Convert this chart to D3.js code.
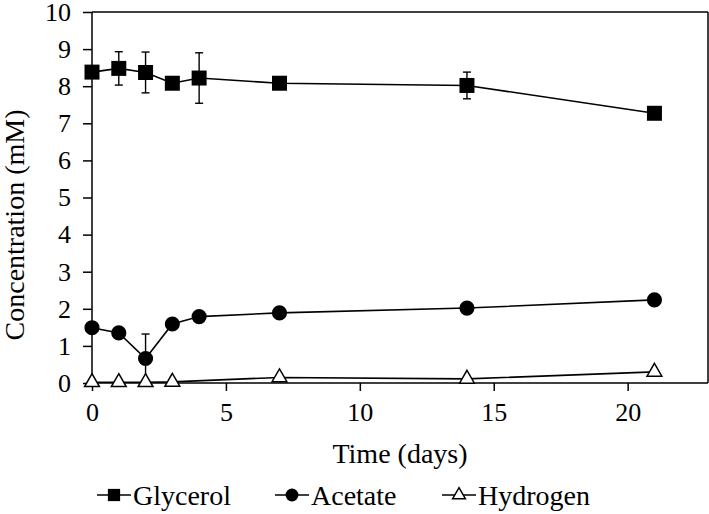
<!DOCTYPE html>
<html><head><meta charset="utf-8">
<script src="https://cdn.jsdelivr.net/npm/d3@7"></script>
<style>html,body{margin:0;padding:0;background:#fff;}svg{display:block;}</style>
</head><body>
<svg id="chart" width="709" height="514"></svg>
<script>
const days = [0, 1, 2, 3, 4, 7, 14, 21];
const glycerol = [8.38, 8.48, 8.37, 8.08, 8.22, 8.08, 8.02, 7.27];
const glycerolErr = [0, 0.45, 0.55, 0, 0.68, 0, 0.36, 0];
const acetate = [1.49, 1.35, 0.66, 1.59, 1.79, 1.89, 2.02, 2.24];
const acetateErr = [0, 0, 0.66, 0, 0, 0, 0, 0];
const hydrogenDays = [0, 1, 2, 3, 7, 14, 21];
const hydrogen = [0.02, 0.02, 0.02, 0.03, 0.15, 0.11, 0.30];
const xTicks = [0, 5, 10, 15, 20];
const yTicks = [0, 1, 2, 3, 4, 5, 6, 7, 8, 9, 10];
const seriesNames = ["Glycerol", "Acetate", "Hydrogen"];

const svg = d3.select("#chart");
const font = "'Liberation Serif', 'Liberation Sans', Arial, sans-serif";
const L = 92, R = 708, T = 12, B = 383;
const x = d3.scaleLinear().domain([0, 23]).range([L, R]);
const y = d3.scaleLinear().domain([0, 10]).range([B, T]);

// frame
svg.append("line").attr("x1", L).attr("x2", R).attr("y1", T).attr("y2", T).attr("stroke", "#000").attr("stroke-width", 1.5);
svg.append("line").attr("x1", R).attr("x2", R).attr("y1", T).attr("y2", B).attr("stroke", "#000").attr("stroke-width", 1.5);

const yAxis = svg.append("g").attr("transform", `translate(${L},0)`)
  .call(d3.axisLeft(y).tickValues(yTicks).tickSize(9).tickPadding(12).tickFormat(d3.format("d")));
const xAxis = svg.append("g").attr("transform", `translate(0,${B})`)
  .call(d3.axisBottom(x).tickValues(xTicks).tickSize(8).tickPadding(12).tickFormat(d3.format("d")));
[yAxis, xAxis].forEach(a => {
  a.attr("font-family", null).attr("font-size", null);
  a.select(".domain").attr("stroke", "#000").attr("stroke-width", 1.5);
  a.selectAll(".tick line").attr("stroke", "#000").attr("stroke-width", 1.5);
  a.selectAll(".tick text").attr("fill", "#000").style("font-family", font).style("font-size", "26px");
});
xAxis.select(".domain").attr("d", `M${L},0H${R}`);
yAxis.select(".domain").attr("d", `M0,${B}V${T}`);

// axis titles
svg.append("text").attr("x", 400).attr("y", 463).attr("text-anchor", "middle")
  .style("font-family", font).style("font-size", "28px").text("Time (days)");
svg.append("text").attr("transform", "translate(24,225) rotate(-90)").attr("text-anchor", "middle")
  .style("font-family", font).style("font-size", "28px").text("Concentration (mM)");

const plot = svg.append("g");
const lineG = d3.line().x((d, i) => x(days[i])).y(d => y(d));
const lineH = d3.line().x((d, i) => x(hydrogenDays[i])).y(d => y(d));
plot.append("path").attr("d", lineH(hydrogen)).attr("fill", "none").attr("stroke", "#000").attr("stroke-width", 1.6);
[acetate, glycerol].forEach(s => {
  plot.append("path").attr("d", lineG(s)).attr("fill", "none").attr("stroke", "#000").attr("stroke-width", 1.6);
});

function errorBars(vals, errs) {
  vals.forEach((v, i) => {
    if (!errs[i]) return;
    const cx = x(days[i]);
    const g = plot.append("g").attr("stroke", "#000").attr("stroke-width", 1.4);
    g.append("line").attr("x1", cx).attr("x2", cx).attr("y1", y(v + errs[i])).attr("y2", y(v - errs[i]));
    [v + errs[i], v - errs[i]].forEach(e => {
      g.append("line").attr("x1", cx - 4).attr("x2", cx + 4).attr("y1", y(e)).attr("y2", y(e));
    });
  });
}
errorBars(glycerol, glycerolErr);
errorBars(acetate, acetateErr);

const sq = d3.symbol().type(d3.symbolSquare).size(225);
const ci = d3.symbol().type(d3.symbolCircle).size(180);
const tri = d3.symbol().type(d3.symbolTriangle).size(95);

hydrogen.forEach((v, i) => {
  plot.append("path").attr("d", tri()).attr("transform", `translate(${x(hydrogenDays[i])},${y(v)})`)
    .attr("fill", "#fff").attr("stroke", "#000").attr("stroke-width", 1.5);
});
acetate.forEach((v, i) => {
  plot.append("path").attr("d", ci()).attr("transform", `translate(${x(days[i])},${y(v)})`).attr("fill", "#000");
});
glycerol.forEach((v, i) => {
  plot.append("path").attr("d", sq()).attr("transform", `translate(${x(days[i])},${y(v)})`).attr("fill", "#000");
});

// legend
const legX = [97, 275, 442];
const legSym = [
  d3.symbol().type(d3.symbolSquare).size(150),
  d3.symbol().type(d3.symbolCircle).size(130),
  d3.symbol().type(d3.symbolTriangle).size(70)
];
seriesNames.forEach((name, i) => {
  const g = svg.append("g").attr("transform", `translate(${legX[i]},495)`);
  g.append("line").attr("x1", 0).attr("x2", 34).attr("y1", 0).attr("y2", 0).attr("stroke", "#000").attr("stroke-width", 1.6);
  const p = g.append("path").attr("d", legSym[i]()).attr("transform", "translate(17,0)");
  if (i === 2) p.attr("fill", "#fff").attr("stroke", "#000").attr("stroke-width", 1.5);
  else p.attr("fill", "#000");
  g.append("text").attr("x", 36).attr("y", 10).style("font-family", font).style("font-size", "28px").text(name);
});
</script>
</body></html>
